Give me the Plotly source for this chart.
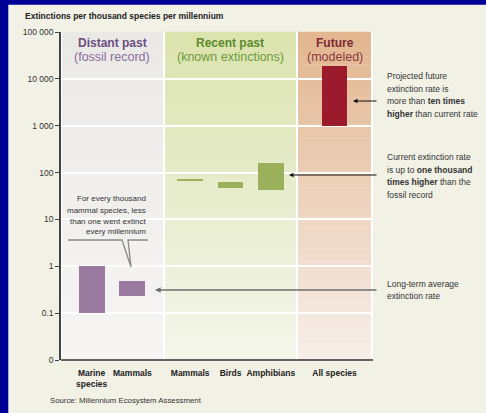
import plotly.graph_objects as go

# ---------------- data ----------------
distant_cats = ["Marine species", "Mammals"]
distant_labels = ["<b>Marine<br>species</b>", "<b>Mammals</b>"]
distant_low = [0.1, 0.23]
distant_high = [1.0, 0.48]

recent_cats = ["Mammals", "Birds", "Amphibians"]
recent_labels = ["<b>Mammals</b>", "<b>Birds</b>", "<b>Amphibians</b>"]
recent_low = [65, 46, 42]
recent_high = [72, 62, 158]

future_cats = ["All species"]
future_labels = ["<b>All species</b>"]
future_low = [1000]
future_high = [19000]

y_tickvals = [0.01, 0.1, 1, 10, 100, 1000, 10000, 100000]
y_ticktext = ["0", "0.1", "1", "10", "100", "1 000", "10 000", "100 000"]

# ---------------- geometry helpers (pixel -> paper) ----------------
W, H = 486, 413
L, R, T, B = 61, 113, 32, 53
PW = W - L - R
PH = H - T - B


def px(x):
    return (x - L) / PW


def py(y):
    return (H - B - y) / PH


FONT = "Liberation Sans, Arial, Helvetica, sans-serif"
PURPLE = "#9a7a9e"
GREEN = "#9bb05a"
RED = "#9b1b2c"

fig = go.Figure()

fig.add_trace(go.Bar(
    x=distant_cats, y=[h - l for l, h in zip(distant_low, distant_high)],
    base=distant_low, width=0.64, marker=dict(color=PURPLE, line_width=0),
    xaxis="x", yaxis="y", hoverinfo="skip"))
fig.add_trace(go.Bar(
    x=recent_cats, y=[h - l for l, h in zip(recent_low, recent_high)],
    base=recent_low, width=0.64, marker=dict(color=GREEN, line_width=0),
    xaxis="x2", yaxis="y", hoverinfo="skip"))
fig.add_trace(go.Bar(
    x=future_cats, y=[h - l for l, h in zip(future_low, future_high)],
    base=future_low, width=0.355, marker=dict(color=RED, line_width=0),
    xaxis="x3", yaxis="y", hoverinfo="skip"))

xcommon = dict(type="category", showgrid=False, showline=False, zeroline=False,
               ticks="", anchor="y", fixedrange=True, ticklabelstandoff=6,
               tickfont=dict(family=FONT, size=8.5, color="#222"))

shapes = []
# white plot area
shapes.append(dict(type="rect", xref="paper", yref="paper", x0=px(61), x1=px(373),
                   y0=py(360), y1=py(32), fillcolor="white", line_width=0, layer="below"))


def lerp(c1, c2, t):
    return "rgb(%d,%d,%d)" % tuple(round(a + (b - a) * t) for a, b in zip(c1, c2))


panels = [
    (62, 163, (235, 233, 230), (246, 245, 243)),
    (165, 296, (219, 227, 174), (244, 246, 235)),
    (298, 371, (226, 181, 142), (247, 239, 234)),
]
N = 40
for x0, x1, top, bot in panels:
    for i in range(N):
        ya = 360 - (360 - 32) * i / N
        yb = 360 - (360 - 32) * (i + 1) / N
        shapes.append(dict(type="rect", xref="paper", yref="paper",
                           x0=px(x0), x1=px(x1), y0=py(ya), y1=py(yb) + 0.001,
                           fillcolor=lerp(bot, top, (i + 0.5) / N),
                           line_width=0, layer="below"))

# bottom axis line
shapes.append(dict(type="line", xref="paper", yref="paper", x0=px(61), x1=px(373),
                   y0=py(360), y1=py(360), line=dict(color="#333", width=1.5)))
# callout line with notch
pth = "M {} {} L {} {} L {} {} L {} {} L {} {}".format(
    px(68), py(240), px(122), py(240), px(131), py(267), px(128), py(240), px(148), py(240))
shapes.append(dict(type="path", xref="paper", yref="paper", path=pth,
                   line=dict(color="#8a8a8a", width=1.3)))
# blue frame strips
shapes.append(dict(type="rect", xref="paper", yref="paper", x0=px(0), x1=px(8.3),
                   y0=py(413), y1=py(0), fillcolor="#000096", line_width=0))
shapes.append(dict(type="rect", xref="paper", yref="paper", x0=px(0), x1=px(486),
                   y0=py(4.7), y1=py(0), fillcolor="#000096", line_width=0))

ann = []


def text(x, y, s, size=8.5, color="#333", xanchor="left"):
    ann.append(dict(x=px(x), y=py(y), xref="paper", yref="paper", text=s,
                    showarrow=False, xanchor=xanchor, yanchor="middle",
                    font=dict(family=FONT, size=size, color=color)))


text(23, 16, "<b>Extinctions per thousand species per millennium</b>", 8.5, "#222")
text(112.5, 43, "<b>Distant past</b>", 12, "#6b4d82", "center")
text(112, 57, "(fossil record)", 12.5, "#8a6c9e", "center")
text(230, 43, "<b>Recent past</b>", 12, "#5b8a2c", "center")
text(230, 57, "(known extinctions)", 12.5, "#6c9a3a", "center")
text(334.5, 43, "<b>Future</b>", 12, "#7a2c36", "center")
text(334.5, 57, "(modeled)", 12.5, "#8a3a40", "center")

for y, s in zip([76, 88.5, 101, 113.5],
                ["Projected future", "extinction rate is",
                 "more than <b>ten times</b>", "<b>higher</b> than current rate"]):
    text(385, y, s)
for y, s in zip([157, 169.5, 182, 194.5],
                ["Current extinction rate", "is up to <b>one thousand</b>",
                 "<b>times higher</b> than the", "fossil record"]):
    text(385, y, s)
for y, s in zip([284, 296], ["Long-term average", "extinction rate"]):
    text(385, y, s)
for y, s in zip([198.5, 210, 221, 231.5],
                ["For every thousand", "mammal species, less",
                 "than one went extinct", "every millennium"]):
    text(148, y, s, 8, "#333", "right")
text(48, 400.5, "Source: Millennium Ecosystem Assessment", 7.8, "#333")


def arrow(xtip, xtail, y, color, width, size):
    ann.append(dict(x=px(xtip), y=py(y), xref="paper", yref="paper", text="",
                    showarrow=True, ax=xtail - xtip, ay=0, axref="pixel", ayref="pixel",
                    arrowhead=2, arrowsize=size, arrowwidth=width, arrowcolor=color,
                    standoff=0, startstandoff=0))


arrow(353, 378, 101, "#111", 1, 0.9)
arrow(289, 378, 175, "#111", 1, 0.9)
arrow(155, 378, 290, "#6e6e6e", 1.6, 0.7)

fig.update_layout(
    width=W, height=H,
    margin=dict(l=L, r=R, t=T, b=B, pad=0),
    paper_bgcolor="#f2f1e6",
    plot_bgcolor="rgba(0,0,0,0)",
    showlegend=False,
    bargap=0,
    xaxis=dict(xcommon, domain=[0, px(163)], range=[-0.75, 1.75],
               tickvals=distant_cats, ticktext=distant_labels),
    xaxis2=dict(xcommon, domain=[px(165), px(296)], range=[-0.625, 2.625],
                tickvals=recent_cats, ticktext=recent_labels),
    xaxis3=dict(xcommon, domain=[px(298), px(371)], range=[-0.5, 0.5],
                tickvals=future_cats, ticktext=future_labels),
    yaxis=dict(type="log", range=[-2, 5], tickvals=y_tickvals, ticktext=y_ticktext,
               showgrid=True, gridcolor="white", gridwidth=1.5,
               showline=True, linecolor="#444", linewidth=1.5,
               ticks="outside", ticklen=4, tickcolor="#444", tickwidth=1,
               zeroline=False, fixedrange=True,
               tickfont=dict(family=FONT, size=8.5, color="#333")),
    shapes=shapes,
    annotations=ann,
)

fig.write_html("out.html", config={"displayModeBar": False},
               post_script="document.body.style.margin='0';document.body.style.padding='0';document.body.style.overflow='hidden';")
